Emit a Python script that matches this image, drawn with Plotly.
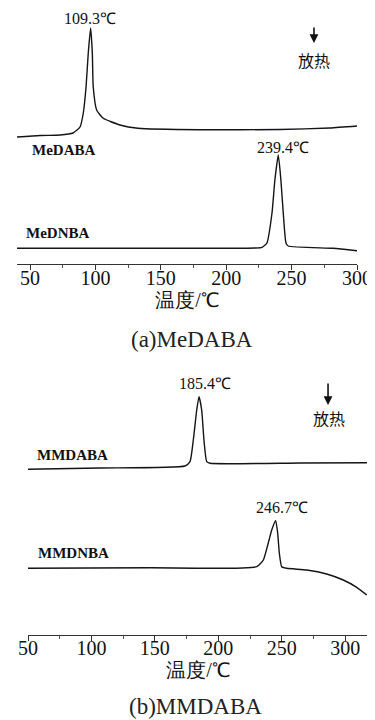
import plotly.graph_objects as go

# ---------------- data ----------------
# (a) MeDABA / MeDNBA, temperature in °C, heat-flow in arbitrary units
medaba_t = [40.0, 57.6, 72.9, 82.8, 88.2, 90.7, 92.8, 94.5, 96.3, 97.6, 98.3, 100.9,
            105.7, 118.7, 132.5, 179.9, 241.1, 279.3, 300.0]
medaba_v = [12.7, 12.85, 12.9, 13.1, 13.7, 15.1, 17.7, 21.1, 23.6, 21.1, 17.7, 15.4,
            14.6, 13.9, 13.57, 13.42, 13.45, 13.6, 13.8]

medmba_t = [40.0, 141.7, 222.0, 227.3, 231.1, 235.0, 237.2, 239.8, 241.8, 243.6,
            245.7, 247.4, 281.6, 300.0]
medmba_v = [1.57, 1.57, 1.6, 1.67, 2.1, 5.1, 8.4, 10.9, 8.4, 5.1, 2.1, 1.8, 1.57, 1.33]

# (b) MMDABA / MMDNBA
mmdaba_t = [50.0, 106.8, 173.7, 177.7, 180.3, 183.0, 184.8, 186.9, 188.7, 190.9,
            193.5, 264.4, 318.0]
mmdaba_v = [16.57, 16.7, 16.9, 17.33, 19.5, 22.5, 23.83, 22.5, 19.5, 17.33,
            17.17, 17.2, 17.23]

mmdnba_t = [50.0, 146.2, 230.3, 235.5, 239.4, 242.1, 245.2, 246.8, 248.1, 250.0,
            253.9, 269.7, 285.4, 298.5, 309.1, 317.0]
mmdnba_v = [6.67, 6.72, 6.83, 7.5, 9.2, 10.5, 11.43, 10.2, 8.2, 6.83,
            6.67, 6.5, 6.1, 5.5, 4.77, 4.0]

x_ticks_a = [50, 100, 150, 200, 250, 300]
x_ticks_b = [50, 100, 150, 200, 250, 300]

peak_a = ["109.3℃", "239.4℃"]
peak_b = ["185.4℃", "246.7℃"]
names_a = ["MeDABA", "MeDNBA"]
names_b = ["MMDABA", "MMDNBA"]
x_title = "温度/℃"
exo = "放热"
captions = ["(a)MeDABA", "(b)MMDABA"]

# ---------------- figure ----------------
# the page body has an 8px margin, so the figure is sized to fit inside it
W, H, OFF = 367, 712, 8


def px(x):
    return (x - OFF) / W


def py(y):
    return 1 - (y - OFF) / H


SERIF = "Liberation Serif"
LINE = dict(color="#141414", width=1.4, shape="spline", smoothing=0.5)

fig = go.Figure()
fig.add_trace(go.Scatter(x=medaba_t, y=medaba_v, mode="lines", line=LINE,
                         xaxis="x", yaxis="y", showlegend=False, hoverinfo="skip"))
fig.add_trace(go.Scatter(x=medmba_t, y=medmba_v, mode="lines", line=LINE,
                         xaxis="x", yaxis="y", showlegend=False, hoverinfo="skip"))
fig.add_trace(go.Scatter(x=mmdaba_t, y=mmdaba_v, mode="lines", line=LINE,
                         xaxis="x2", yaxis="y2", showlegend=False, hoverinfo="skip"))
fig.add_trace(go.Scatter(x=mmdnba_t, y=mmdnba_v, mode="lines", line=LINE,
                         xaxis="x2", yaxis="y2", showlegend=False, hoverinfo="skip"))

xcommon = dict(showline=True, linecolor="#333", linewidth=1.2, ticks="outside",
               ticklen=5, tickwidth=1.2, tickcolor="#333", showgrid=False,
               zeroline=False, automargin=False, ticklabeloverflow="allow",
               tickfont=dict(family=SERIF, size=20, color="#111"),
               minor=dict(ticks="outside", ticklen=3, tickwidth=1, tickcolor="#555", dtick=25,
                          tick0=50),
               title=dict(text=x_title, font=dict(family=SERIF, size=20, color="#111"),
                          standoff=0))

fig.update_layout(
    width=W, height=H,
    margin=dict(l=0, r=0, t=0, b=0, autoexpand=False),
    paper_bgcolor="white", plot_bgcolor="white",
    xaxis=dict(domain=[px(17), px(357)], range=[40, 300], anchor="y",
               tickvals=x_ticks_a, ticklabelstandoff=-9, **xcommon),
    yaxis=dict(domain=[py(264), 1.0], range=[0, 25.6], visible=False, anchor="x",
               automargin=False),
    xaxis2=dict(domain=[px(28), px(368)], range=[50, 318], anchor="y2",
                tickvals=x_ticks_b, ticklabelstandoff=-10, **xcommon),
    yaxis2=dict(domain=[py(635), py(350)], range=[0, 28.5], visible=False,
                anchor="x2", automargin=False),
)

ann = []
lab = dict(family=SERIF, size=16, color="#111")
name_font = dict(family=SERIF, size=15, color="#111")
cjk = dict(family="Noto Sans CJK SC", size=16, color="#111")

# (a)
ann += [
    dict(x=96.0, y=24.6, xref="x", yref="y", text=peak_a[0], showarrow=False, font=lab),
    dict(x=243.4, y=11.7, xref="x", yref="y", text=peak_a[1], showarrow=False, font=lab),
    dict(x=75.9, y=11.4, xref="x", yref="y", text="<b>" + names_a[0] + "</b>", showarrow=False, font=name_font),
    dict(x=71.0, y=3.1, xref="x", yref="y", text="<b>" + names_a[1] + "</b>", showarrow=False, font=name_font),
    dict(x=267.1, y=20.4, xref="x", yref="y", text=exo, showarrow=False, font=cjk),
    dict(x=267.1, y=22.1, xref="x", yref="y", ax=267.1, ay=23.8, axref="x", ayref="y",
         text="", showarrow=True, arrowhead=2, arrowsize=1.1, arrowwidth=1.6, arrowcolor="#111"),
]
# (b)
ann += [
    dict(x=189.5, y=25.2, xref="x2", yref="y2", text=peak_b[0], showarrow=False, font=lab),
    dict(x=250.2, y=12.8, xref="x2", yref="y2", text=peak_b[1], showarrow=False, font=lab),
    dict(x=84.7, y=18.0, xref="x2", yref="y2", text="<b>" + names_b[0] + "</b>", showarrow=False, font=name_font),
    dict(x=85.5, y=8.2, xref="x2", yref="y2", text="<b>" + names_b[1] + "</b>", showarrow=False, font=name_font),
    dict(x=287.3, y=21.7, xref="x2", yref="y2", text=exo, showarrow=False, font=cjk),
    dict(x=286.5, y=23.0, xref="x2", yref="y2", ax=286.5, ay=25.3, axref="x2", ayref="y2",
         text="", showarrow=True, arrowhead=2, arrowsize=1.1, arrowwidth=1.6, arrowcolor="#111"),
]
# captions
ann += [
    dict(x=px(192), y=py(340), xref="paper", yref="paper", text=captions[0],
         xanchor="center", yanchor="middle", showarrow=False,
         font=dict(family=SERIF, size=23, color="#222")),
    dict(x=px(195), y=py(706), xref="paper", yref="paper", text=captions[1],
         xanchor="center", yanchor="middle", showarrow=False,
         font=dict(family=SERIF, size=23, color="#222")),
]
fig.update_layout(annotations=ann)

fig.write_html("out.html")
